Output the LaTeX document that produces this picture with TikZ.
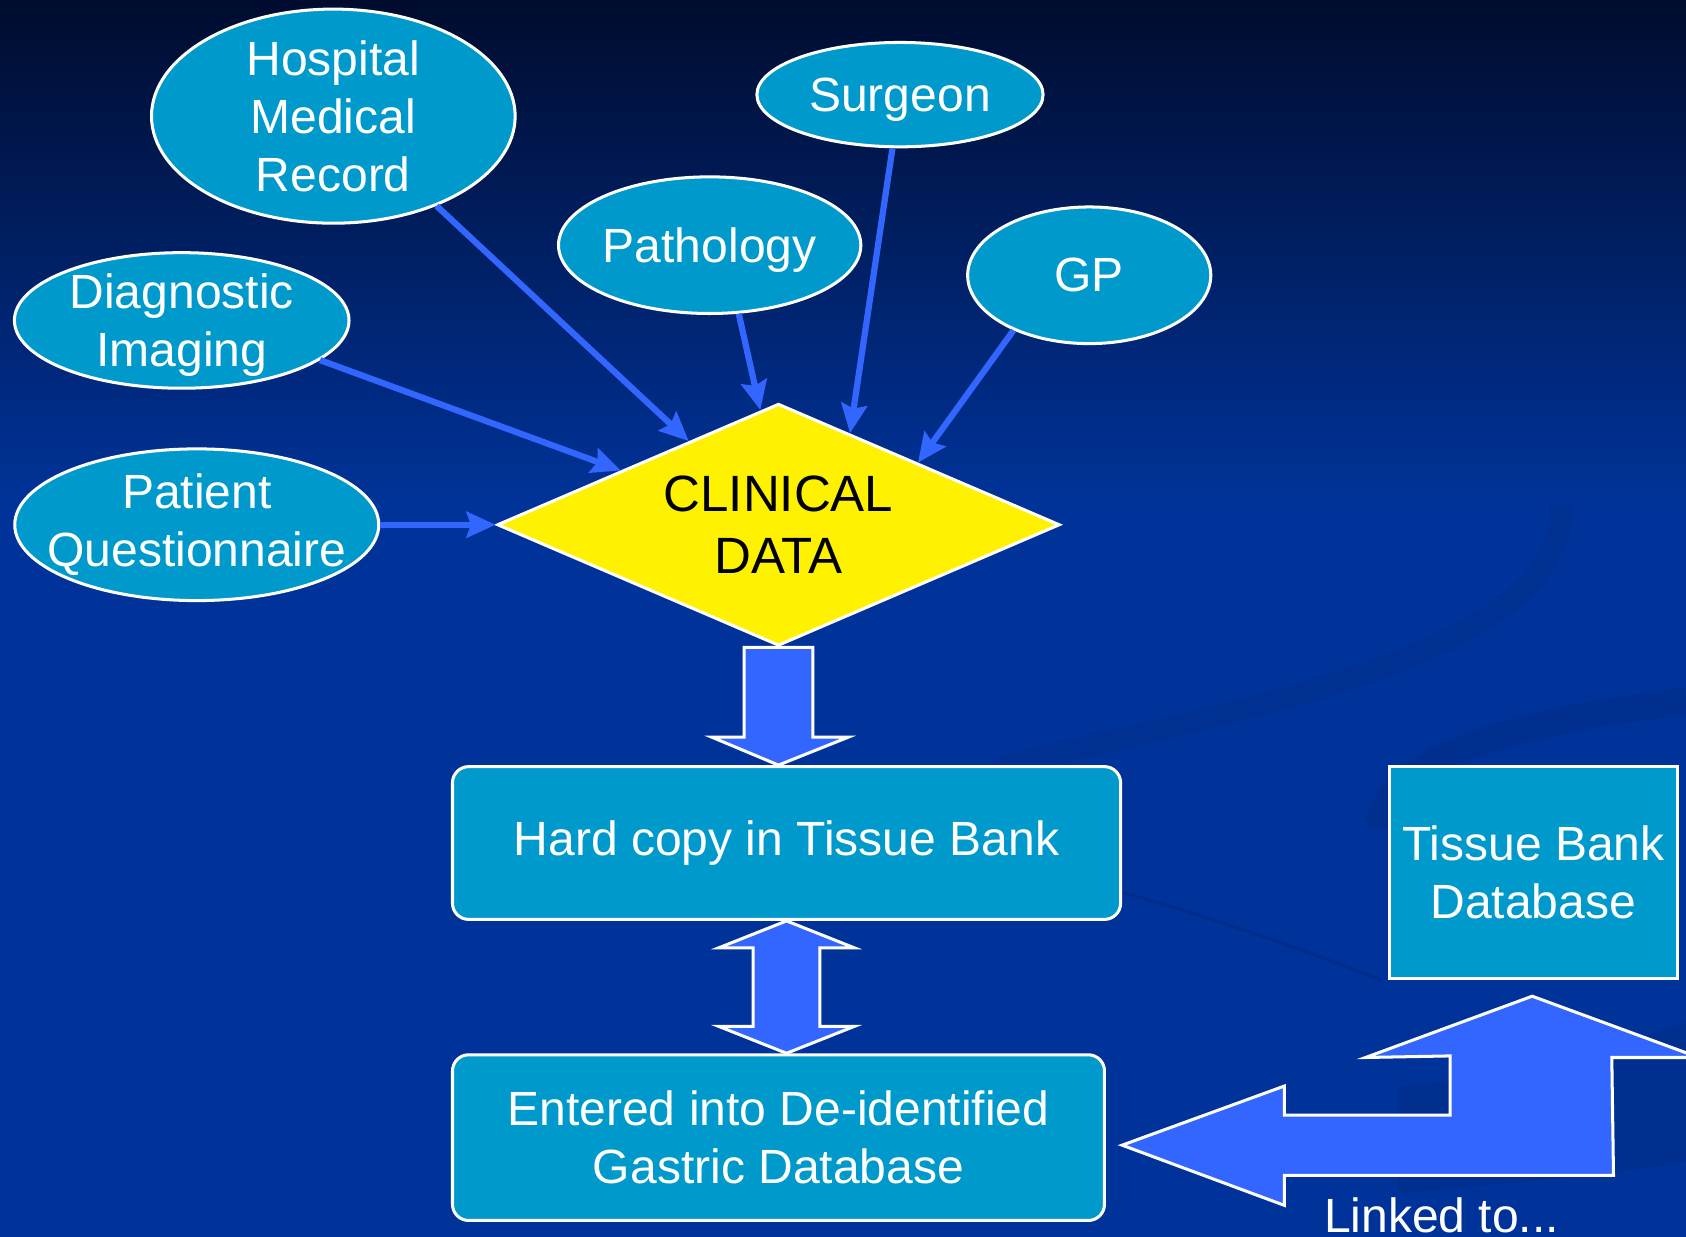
\documentclass[tikz,border=0pt]{standalone}
\usepackage{fontspec}
\setmainfont{Liberation Sans}
\usetikzlibrary{arrows.meta, shapes.geometric, calc}
\tikzset{>=stealth}
\definecolor{bgtop}{HTML}{000C2E}
\definecolor{bgblue}{HTML}{003399}
\definecolor{bgdark}{HTML}{002A80}
\definecolor{cyanfill}{HTML}{0099CC}
\definecolor{arrowblue}{HTML}{3366FF}
\tikzset{
  slidefont/.style = {font = \fontsize{12.7}{15.3}\selectfont},
  source/.style = {ellipse, draw = white, line width = 0.8pt, fill = cyanfill, text = white, inner sep = 0pt, align = center, slidefont},
  box/.style = {rectangle, draw = white, line width = 0.8pt, fill = cyanfill, text = white, inner sep = 2pt, align = center, slidefont},
  feed/.style = {-{Stealth[length = 0.27cm, width = 0.24cm, inset = 0.04cm]}, draw = arrowblue, line width = 0.058cm},
  block/.style = {fill = arrowblue, draw = white, line width = 0.8pt, line join = miter}
}

\begin{document}
\begin{tikzpicture}[x = 0.01cm, y = -0.01cm]
    \useasboundingbox (0,0) rectangle (1568,1150);
    \clip (0,0) rectangle (1568,1150);
    % background
    \fill [top color = bgtop, bottom color = bgblue] (0,0) rectangle (1568,470);
    \fill [bgblue] (0,469) rectangle (1568,1150);
    \draw [bgdark, line width = 0.2cm, opacity = 0.25] (930,713) .. controls (1150,660) and (1460,610) .. (1452,468);
    \draw [bgdark, line width = 0.25cm, opacity = 0.35] (1568,652) .. controls (1420,670) and (1290,700) .. (1282,770);
    \draw [bgdark, line width = 0.03cm, opacity = 0.6] (1045,830) .. controls (1150,860) and (1230,890) .. (1285,912);
    \fill [bgdark, opacity = 0.4] (1300,1010) .. controls (1420,1000) and (1500,975) .. (1568,950) -- (1568,1080) .. controls (1480,1095) and (1400,1100) .. (1300,1110) -- cycle;

    % sources
    \node [source, minimum width = 3.38cm, minimum height = 1.99cm] (hmr) at (310,108) {Hospital\\Medical\\Record};
    \node [source, minimum width = 2.66cm, minimum height = 0.97cm, text depth = 0pt] (surgeon) at (837,88) {Surgeon};
    \node [source, minimum width = 2.81cm, minimum height = 1.27cm, text depth = 0pt] (pathology) at (660,228) {Pathology};
    \node [source, minimum width = 2.26cm, minimum height = 1.27cm] (gp) at (1013,256) {GP};
    \node [source, minimum width = 3.11cm, minimum height = 1.26cm, text depth = 0pt] (imaging) at (169,298) {Diagnostic\\Imaging};
    \node [source, minimum width = 3.38cm, minimum height = 1.41cm, inner xsep = -5.5pt] (quest) at (183,488) {Patient\\Questionnaire};

    \node [diamond, aspect = 2.32, draw = white, line width = 0.8pt, fill = yellow, inner sep = 0pt, minimum width = 5.23cm, minimum height = 2.25cm, align = center, font = \fontsize{13.5}{16.5}\selectfont] (data) at (724,488) {CLINICAL\\DATA};

    \node [box, rounded corners = 0.15cm, minimum width = 6.21cm, minimum height = 1.42cm] (hard) at (731.5,784) {Hard copy in Tissue Bank};
    \node [box, rounded corners = 0.15cm, minimum width = 6.06cm, minimum height = 1.54cm] (entered) at (724,1058) {Entered into De-identified\\Gastric Database};
    \node [box, minimum width = 2.68cm, minimum height = 1.97cm] (tbd) at (1426,811.5) {Tissue Bank\\Database};
    \node [anchor = base west, text = white, slidefont] (linked) at (1219,1146) {Linked to...};

    % thin arrows into the diamond
    \draw [feed] (hmr.-41) -- (data.137);
    \draw [feed] (imaging.-16) -- (data.161);
    \draw [feed] (pathology.-67) -- (data.99.5);
    \draw [feed] (surgeon.-98) -- (data.52.5);
    \draw [feed] (gp.-144.5) -- (data.24);
    \draw [feed] (quest.east) -- (data.west);

    % block arrows
    \coordinate (tipa) at (data.south |- hard.north);
    \draw [block] ($(data.south)+(-32,0)$) -- ($(data.south)+(32,0)$) -- ($(tipa)+(32,-26)$) -- ($(tipa)+(65,-26)$)
        -- (tipa) -- ($(tipa)+(-62,-26)$) -- ($(tipa)+(-32,-26)$) -- cycle;
    \coordinate (upb) at (hard.south);
    \coordinate (dnb) at (hard.south |- entered.north);
    \draw [block] (upb) -- ($(upb)+(63,25)$) -- ($(upb)+(31,25)$) -- ($(dnb)+(31,-25)$) -- ($(dnb)+(63,-25)$)
        -- (dnb) -- ($(dnb)+(-63,-25)$) -- ($(dnb)+(-31,-25)$) -- ($(upb)+(-31,25)$) -- ($(upb)+(-63,25)$) -- cycle;
    \coordinate (lnk) at ($(entered.east)+(15,7)$);
    \coordinate (upc) at ($(tbd.south)+(-1,15)$);
    \draw [block] (lnk) -- ($(lnk)+(151,-55)$) -- ($(lnk)+(151,-28)$) -- ($(lnk)+(305,-28)$) -- ($(lnk)+(305,-83)$)
        -- ($(upc)+(-155,57)$) -- (upc) -- ($(upc)+(155,57)$) -- ($(upc)+(74,57)$) -- ($(lnk)+(457,28)$)
        -- ($(lnk)+(151,28)$) -- ($(lnk)+(151,56)$) -- cycle;
\end{tikzpicture}
\end{document}
